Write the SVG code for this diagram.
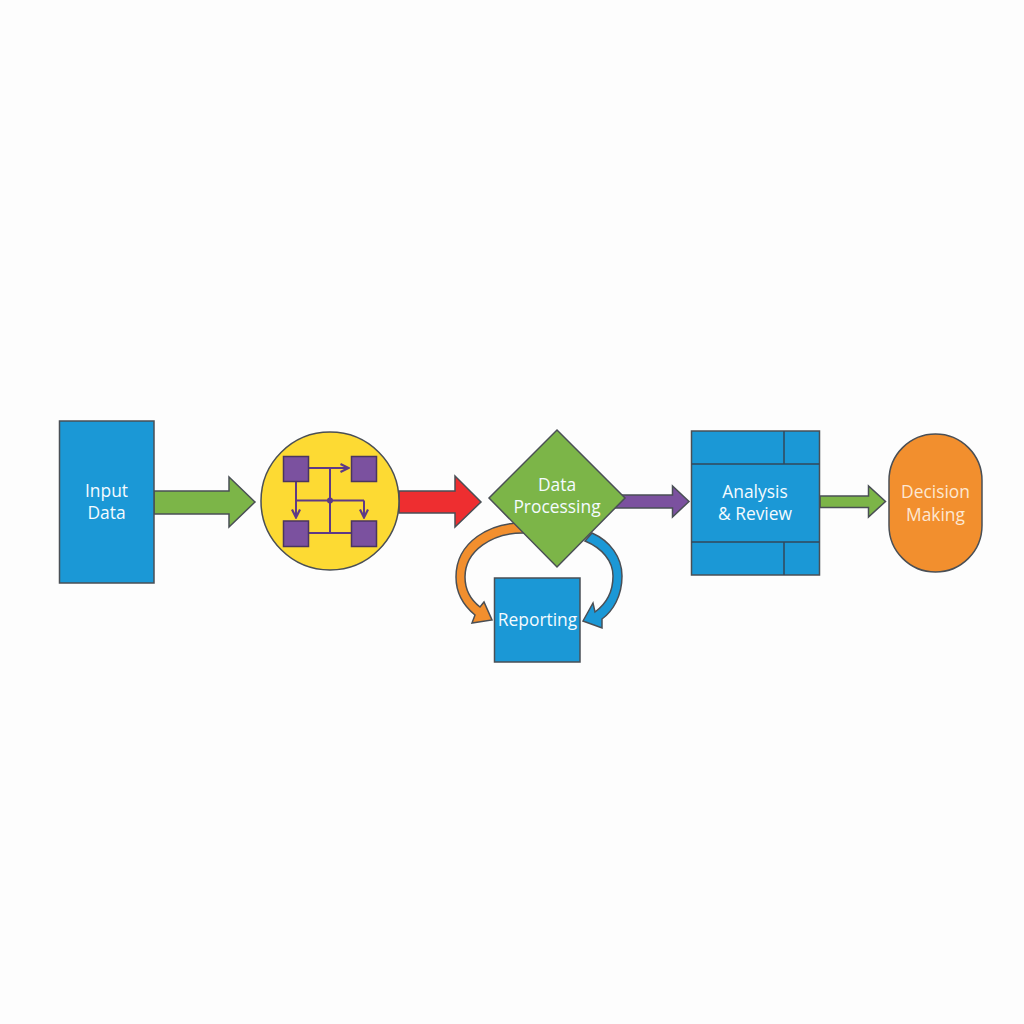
<svg xmlns="http://www.w3.org/2000/svg" width="1024" height="1024" viewBox="0 0 1024 1024">
<defs>
<style>
.s{stroke:#4a4f55;stroke-width:1.5;stroke-linejoin:miter}
.blue{fill:#1b98d6}.green{fill:#7cb548}.purple{fill:#7b519f}.red{fill:#ee2e30}.orange{fill:#f28f2e}.yellow{fill:#fdda33}
.t{font-family:"Open Sans","Noto Sans",sans-serif;font-size:17.4px;fill:#f4fbff;text-anchor:middle}
.w{stroke:#5e3a86;stroke-width:2;fill:none}
.sq{fill:#7b519f;stroke:#4a3560;stroke-width:1.5}
</style>
<marker id="a" viewBox="0 0 10 10" refX="8.5" refY="5" markerWidth="10" markerHeight="10" markerUnits="userSpaceOnUse" orient="auto"><path d="M1 1L9 5L1 9" fill="none" stroke="#5e3a86" stroke-width="2.200"/></marker>
</defs>
<rect width="1024" height="1024" fill="#fdfdfd"/>
<g id="connectors">
<path class="s green" d="M154 491H229V477L255 502L229 527V514H154Z"/>
<path class="s red" d="M399 491H455V476L481 502L455 527V513H399Z"/>
<path class="s purple" d="M612 495H672.500V486L689 501.500L672.500 517V508H612Z"/>
<path class="s green" d="M820 496H868.500V486L885.500 501.500L868.500 517V507.500H820Z"/>
<path class="s orange" d="M524 523C490 522 456 542 456 577C456 593 464 606 475 615L472 623L492 620L484 602L480 607C471 600 465 590 465 577C465 551 492 532 526 533Z"/>
<path class="s blue" d="M592 533C610 541 622 557 622 576C622 596 613 611 602 619V628L583 621L593 603L595 612C606 604 613 592 613 576C613 561 602 548 585 541Z"/>
</g>
<g id="input-data">
<rect class="s blue" x="59.500" y="421" width="94.500" height="162"/>
<text class="t" x="106.500" y="497">Input</text>
<text class="t" x="106.500" y="519">Data</text>
</g>
<g id="network">
<circle class="s yellow" cx="330" cy="501" r="69"/>
<path class="w" d="M309 468H348" marker-end="url(#a)"/>
<path class="w" d="M330 468V533M309 533H351M296 500.500H364"/>
<path class="w" d="M296 482V517" marker-end="url(#a)"/>
<path class="w" d="M364 500.500V517" marker-end="url(#a)"/>
<circle cx="330" cy="500.500" r="3" fill="#5e3a86"/>
<rect class="sq" x="283.500" y="456.500" width="25" height="25"/>
<rect class="sq" x="351.500" y="456.500" width="25" height="25"/>
<rect class="sq" x="283.500" y="521" width="25" height="25.500"/>
<rect class="sq" x="351.500" y="521" width="25" height="25.500"/>
</g>
<g id="data-processing">
<path class="s green" d="M557 430L625 498L557 567L489 498Z"/>
<text class="t" x="557" y="491">Data</text>
<text class="t" x="557" y="513">Processing</text>
</g>
<g id="reporting">
<rect class="s blue" x="494.500" y="578" width="85.500" height="84"/>
<text class="t" x="537.500" y="626">Reporting</text>
</g>
<g id="analysis-review">
<rect class="s blue" x="691.500" y="431" width="128" height="144"/>
<path d="M691.500 464H819.500M691.500 542H819.500M784 431V464M784 542V575" fill="none" stroke="#33475a" stroke-width="1.500"/>
<text class="t" x="755" y="498">Analysis</text>
<text class="t" x="755" y="520">&amp; Review</text>
</g>
<g id="decision-making">
<rect class="s orange" x="889" y="434" width="93" height="138" rx="46.500"/>
<text class="t" x="935.500" y="498" style="fill:#fde8d2">Decision</text>
<text class="t" x="935.500" y="521" style="fill:#fde8d2">Making</text>
</g>
</svg>
